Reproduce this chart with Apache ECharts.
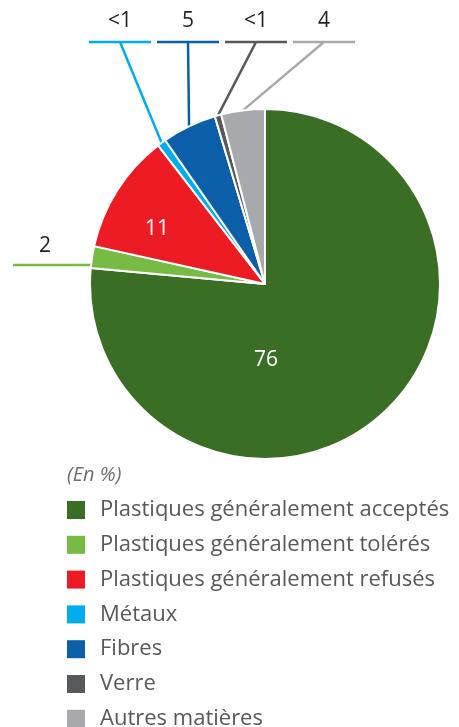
<!DOCTYPE html>
<html>
<head>
<meta charset="utf-8">
<script src="https://cdn.jsdelivr.net/npm/echarts@6/dist/echarts.min.js"></script>
<style>
html,body{margin:0;padding:0;background:#fff;}
#chart{width:459px;height:727px;}
</style>
</head>
<body>
<div id="chart"></div>
<script>
const categories = [
  'Plastiques généralement acceptés',
  'Plastiques généralement tolérés',
  'Plastiques généralement refusés',
  'Métaux',
  'Fibres',
  'Verre',
  'Autres matières'
];
const values = [76, 2, 11, 0.8, 5, 0.6, 4];
const labelTexts = ['76', '2', '11', '<1', '5', '<1', '4'];
const colors = ['#3b6e25', '#78bb44', '#ed1c24', '#00aeef', '#0b5ea8', '#58595b', '#a7a9ac'];
const unitNote = '(En %)';

// layout
const CX = 265, CY = 284, R = 175;
const FONT = 'Open Sans';
const labelKind = ['inside', 'left', 'inside', 'top', 'top', 'top', 'top'];
const labelPos = [
  {x: 266, y: 360},
  {x: 45, y: 246, barL: 13, barY: 265},
  {x: 157, y: 229},
  {x: 120, y: 21, barY: 42, half: 31},
  {x: 188, y: 21, barY: 42, half: 31},
  {x: 256, y: 21, barY: 42, half: 31},
  {x: 324, y: 21, barY: 42, half: 31}
];

const total = values.reduce((a, b) => a + b, 0);
function midPoint(i) {
  let cum = 0;
  for (let k = 0; k < i; k++) cum += values[k];
  const frac = (cum + values[i] / 2) / total;
  const a = frac * 2 * Math.PI;
  return [CX + R * Math.sin(a), CY - R * Math.cos(a)];
}

const chart = echarts.init(document.getElementById('chart'), null, {renderer: 'canvas'});

const data = categories.map((name, i) => {
  const inside = labelKind[i] === 'inside';
  return {
    name: name,
    value: values[i],
    itemStyle: {color: colors[i]},
    label: {
      show: true,
      position: inside ? 'inside' : 'outside',
      formatter: labelTexts[i],
      color: inside ? '#ffffff' : '#231f20',
      fontSize: 21,
      fontFamily: FONT
    },
    labelLine: {
      show: !inside,
      lineStyle: {color: colors[i], width: 2.5}
    }
  };
});

chart.setOption({
  animation: false,
  color: colors,
  title: {
    text: unitNote,
    left: 67,
    top: 465,
    padding: 0,
    textStyle: {fontFamily: FONT, fontStyle: 'italic', fontWeight: 'normal', fontSize: 20, color: '#6d6e71'}
  },
  legend: {
    orient: 'vertical',
    left: 67,
    top: 499,
    height: 400,
    padding: 0,
    itemWidth: 18,
    itemHeight: 18,
    itemGap: 12.8,
    icon: 'rect',
    selectedMode: false,
    itemStyle: {borderWidth: 0},
    data: categories,
    textStyle: {fontFamily: FONT, fontSize: 22, color: '#58595b', lineHeight: 22, padding: [0, 0, 0, 10]}
  },
  series: [{
    type: 'pie',
    center: [CX, CY],
    radius: [0, R],
    startAngle: 90,
    clockwise: true,
    avoidLabelOverlap: false,
    itemStyle: {borderColor: '#ffffff', borderWidth: 2},
    emphasis: {disabled: true},
    data: data,
    labelLayout: function (params) {
      const i = params.dataIndex;
      const p = labelPos[i];
      const out = {x: p.x, y: p.y, align: 'center', verticalAlign: 'middle'};
      if (labelKind[i] === 'top') {
        const m = midPoint(i);
        out.labelLinePoints = [m, [p.x, p.barY], [p.x - p.half, p.barY], [p.x + p.half, p.barY]];
      } else if (labelKind[i] === 'left') {
        const dy = p.barY - CY;
        const xa = CX - Math.sqrt(R * R - dy * dy);
        out.labelLinePoints = [[xa + 1, p.barY], [p.barL, p.barY], [p.barL, p.barY]];
      }
      return out;
    }
  }]
});
</script>
</body>
</html>
